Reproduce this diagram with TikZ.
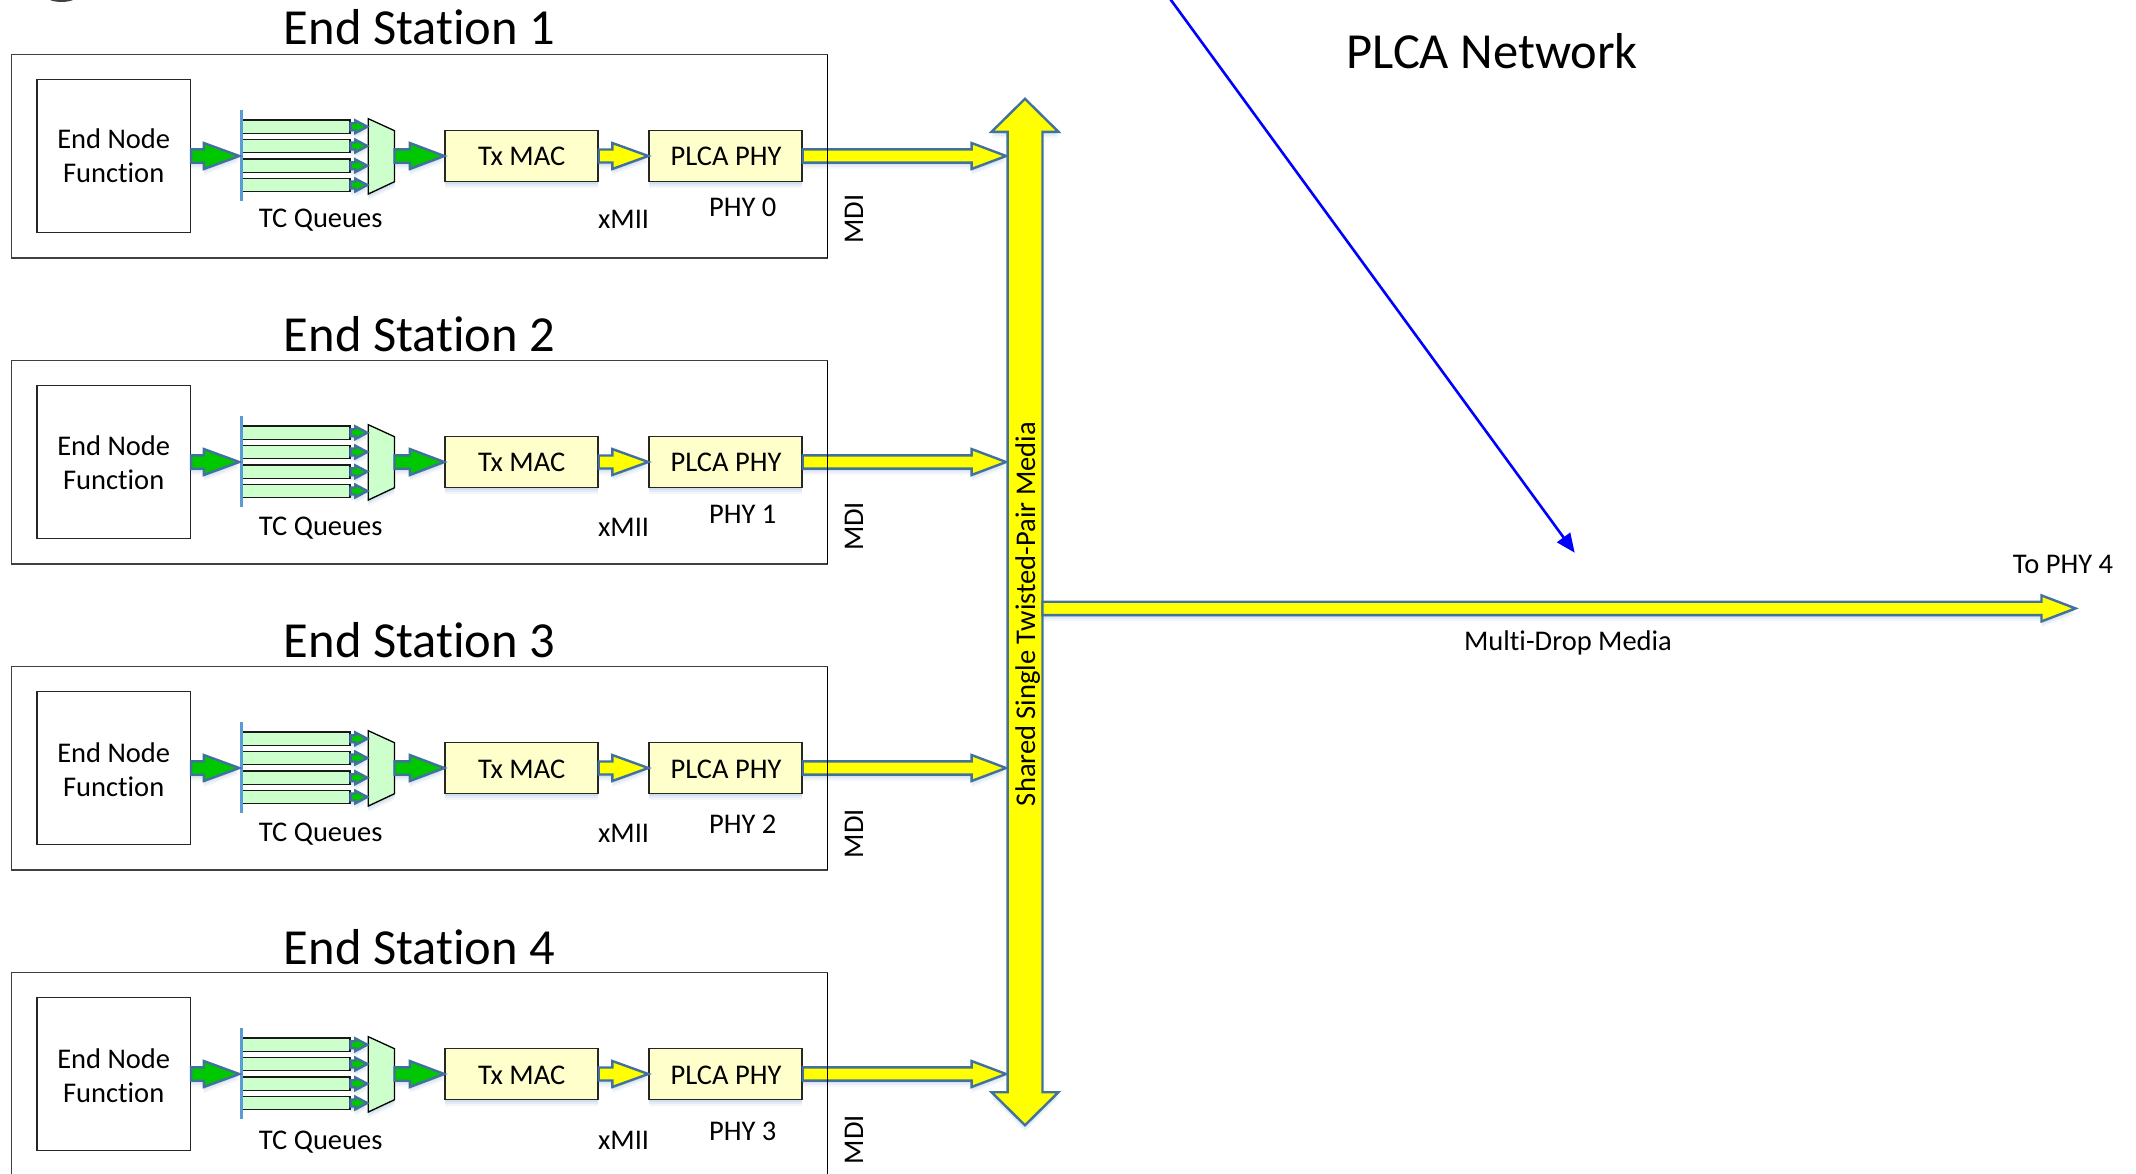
\documentclass[tikz,border=0pt]{standalone}
\usepackage{fontspec}
\setmainfont{Carlito}[Ligatures=NoCommon]
\usetikzlibrary{calc,arrows.meta,shadows}
\definecolor{arrowedge}{HTML}{41719C}
\definecolor{busbar}{HTML}{5B9BD5}
\definecolor{softblue}{HTML}{4F81BD}
\definecolor{macfill}{HTML}{FFFFCC}
\definecolor{queuefill}{HTML}{CCFFCC}
\definecolor{arrowgreen}{HTML}{00C800}
\definecolor{mediayellow}{HTML}{FFFF00}
\definecolor{medialine}{HTML}{0000FF}
\tikzset{
  softshadow/.style={
    general shadow={fill=softblue,opacity=.07,shadow yshift=-6pt},
    general shadow={fill=softblue,opacity=.09,shadow yshift=-4pt},
    general shadow={fill=softblue,opacity=.12,shadow yshift=-2pt}},
  fatarrow/.style={draw=arrowedge,line width=2.4pt,line join=miter,miter limit=6,softshadow},
  stationbox/.style={draw=black!75,line width=1.5pt,fill=white,inner sep=0pt},
  functionbox/.style={draw=black!85,line width=1.4pt,fill=white,inner sep=0pt,align=center,minimum width=153.5pt,minimum height=153pt},
  yellowbox/.style={draw=black!85,line width=1.4pt,fill=macfill,inner sep=0pt,minimum height=51pt,font=\fontsize{28.5}{28.5}\selectfont,softshadow},
  queuebox/.style={draw=black!90,line width=1.2pt,fill=queuefill,inner sep=0pt,minimum width=108pt,minimum height=13.4pt},
  muxbox/.style={draw=black,line width=1.3pt,fill=queuefill,softshadow},
  label/.style={inner sep=0pt,anchor=base,font=\fontsize{28.5}{28.5}\selectfont},
  titlelabel/.style={inner sep=0pt,anchor=base,font=\fontsize{50.5}{50.5}\selectfont},
  sidelabel/.style={inner sep=0pt,anchor=base,rotate=90,font=\fontsize{28.5}{28.5}\selectfont},
  barline/.style={draw=busbar,line width=3pt},
  bluearrow/.style={draw=medialine,fill=medialine,line width=2.6pt,-{Triangle[length=19pt,width=16pt]}},
}
% start, tip, shaft half, head half, head length, fill
\newcommand{\hfat}[6]{%
  \draw[fatarrow,fill=#6] ($(#1)+(0,-#3)$) -- ($(#2)+(-#5,-#3)$) -- ($(#2)+(-#5,-#4)$) -- (#2)
    -- ($(#2)+(-#5,#4)$) -- ($(#2)+(-#5,#3)$) -- ($(#1)+(0,#3)$) -- cycle;}
\begin{document}
\begin{tikzpicture}[x=1pt,y=-1pt]
\clip (0,0) rectangle (2136,1173);
\fill[black!75] (50,0) .. controls (56,2.6) and (67,2.6) .. (73,0) -- cycle;

% shared bus outline holder
\node[inner sep=0pt,minimum width=34.5pt,minimum height=960pt] (bus) at (1025,612) {};

\foreach \i/\phy/\oT/\oF/\oC/\oQ/\oX/\oP/\oD in
  {1/0/2.0/0/0/-2.2/0.7/0/0,
   2/1/3.0/0.7/0/-0.7/2.7/1.4/1.4,
   3/2/3.0/1.4/1.2/-0.7/2.7/5.4/2.7,
   4/3/4.0/2.0/1.4/1.4/4.0/6.8/2.7}{
  \pgfmathsetmacro{\yc}{156+306*(\i-1)}
  \pgfmathsetmacro{\yb}{\yc-101.5}
  \pgfmathsetmacro{\ye}{\yc+102}
  \pgfmathsetmacro{\ytitle}{\yc-113.3+\oT}
  \draw[stationbox] (11.5,\yb) rectangle (827.5,\ye);
  \node[titlelabel] (title\i) at (419.5,\ytitle) {End Station \i};
  \node[functionbox] (fn\i) at (113.7,\yc) {};
  \node[label] (fnA\i) at (113.7,\yc-7.3+\oF) {End Node};
  \node[label] (fnB\i) at (113.7,\yc+26.7+\oF) {Function};
  % TC queues
  \node[queuebox] (q\i a) at (296,\yc-29.3) {};
  \node[queuebox] (q\i b) at (296,\yc-10) {};
  \node[queuebox] (q\i c) at (296,\yc+9.7) {};
  \node[queuebox] (q\i d) at (296,\yc+29) {};
  \coordinate (bar\i t) at (241,\yc-46);
  \coordinate (bar\i b) at (241,\yc+45);
  \coordinate (bar\i m) at (239.3,\yc);
  \draw[barline] (bar\i t) -- (bar\i b);
  % mux
  \coordinate (muxr\i) at (394.5,\yc);
  \draw[muxbox] (368.3,\yc-37.3) -- (394.5,\yc-25.3) -- (394.5,\yc+25.7) -- (368.3,\yc+38) -- cycle;
  % small arrows
  \foreach \n/\dy in {a/-29.3,b/-10,c/9.7,d/29}{
    \coordinate (tipq\i\n) at (367.3,\yc+\dy);
    \hfat{q\i\n.east}{tipq\i\n}{3.5}{6.3}{12}{arrowgreen}
  }
  % boxes
  \node[yellowbox,minimum width=153pt] (mac\i) at (521.5,\yc) {};
  \node[label] (macT\i) at (521.7,\yc+9+\oC) {Tx MAC};
  \node[yellowbox,minimum width=153pt] (phy\i) at (725.5,\yc) {};
  \node[label] (phyT\i) at (726,\yc+9+\oC) {PLCA PHY};
  % arrows
  \hfat{fn\i.east}{bar\i m}{6.7}{13}{35.5}{arrowgreen}
  \hfat{muxr\i}{mac\i.west}{6.7}{13}{34.5}{arrowgreen}
  \hfat{mac\i.east}{phy\i.west}{6.5}{13}{36}{mediayellow}
  \coordinate (busin\i) at ($(bus.west |- phy\i.east)+(-1.5,0)$);
  \hfat{phy\i.east}{busin\i}{6.6}{13}{34.5}{mediayellow}
  \draw[black,line width=1.3pt] (827.5,\yb) -- (827.5,\ye);
  % labels
  \node[label] (tcq\i) at (320.7,\yc+74+\oQ) {TC Queues};
  \node[label] (xmii\i) at (623.6,\yc+71.7+\oX) {xMII};
  \node[label] (phyl\i) at (742.7,\yc+60+\oP) {PHY \phy};
  \node[sidelabel] (mdi\i) at (863,\yc+63+\oD) {MDI};
}

% bus double arrow
\draw[fatarrow,fill=mediayellow]
  (bus.north west) -- ($(bus.north west)+(-16,0)$) -- ($(bus.north)+(0,-33)$) -- ($(bus.north east)+(16,0)$) -- (bus.north east)
  -- (bus.south east) -- ($(bus.south east)+(16,0)$) -- ($(bus.south)+(0,33)$) -- ($(bus.south west)+(-16,0)$) -- (bus.south west) -- cycle;
\node[sidelabel] (buslabel) at (1035,614) {Shared Single Twisted-Pair Media};

% horizontal multi-drop media
\coordinate (mediaend) at (2075.5,608.4);
\coordinate (mediastart) at (bus.east |- mediaend);
\hfat{mediastart}{mediaend}{6.7}{13}{34}{mediayellow}
\node[label] (todrop) at (2063,573.3) {To PHY 4};
\node[label] (media) at (1568,650.5) {Multi-Drop Media};
\node[titlelabel] (plca) at (1492,68.8) {PLCA Network};

% blue pointer
\coordinate (ptrstart) at (1168,-4);
\coordinate (ptrend) at (1574.7,552.7);
\draw[bluearrow] (ptrstart) -- (ptrend);
\end{tikzpicture}
\end{document}
